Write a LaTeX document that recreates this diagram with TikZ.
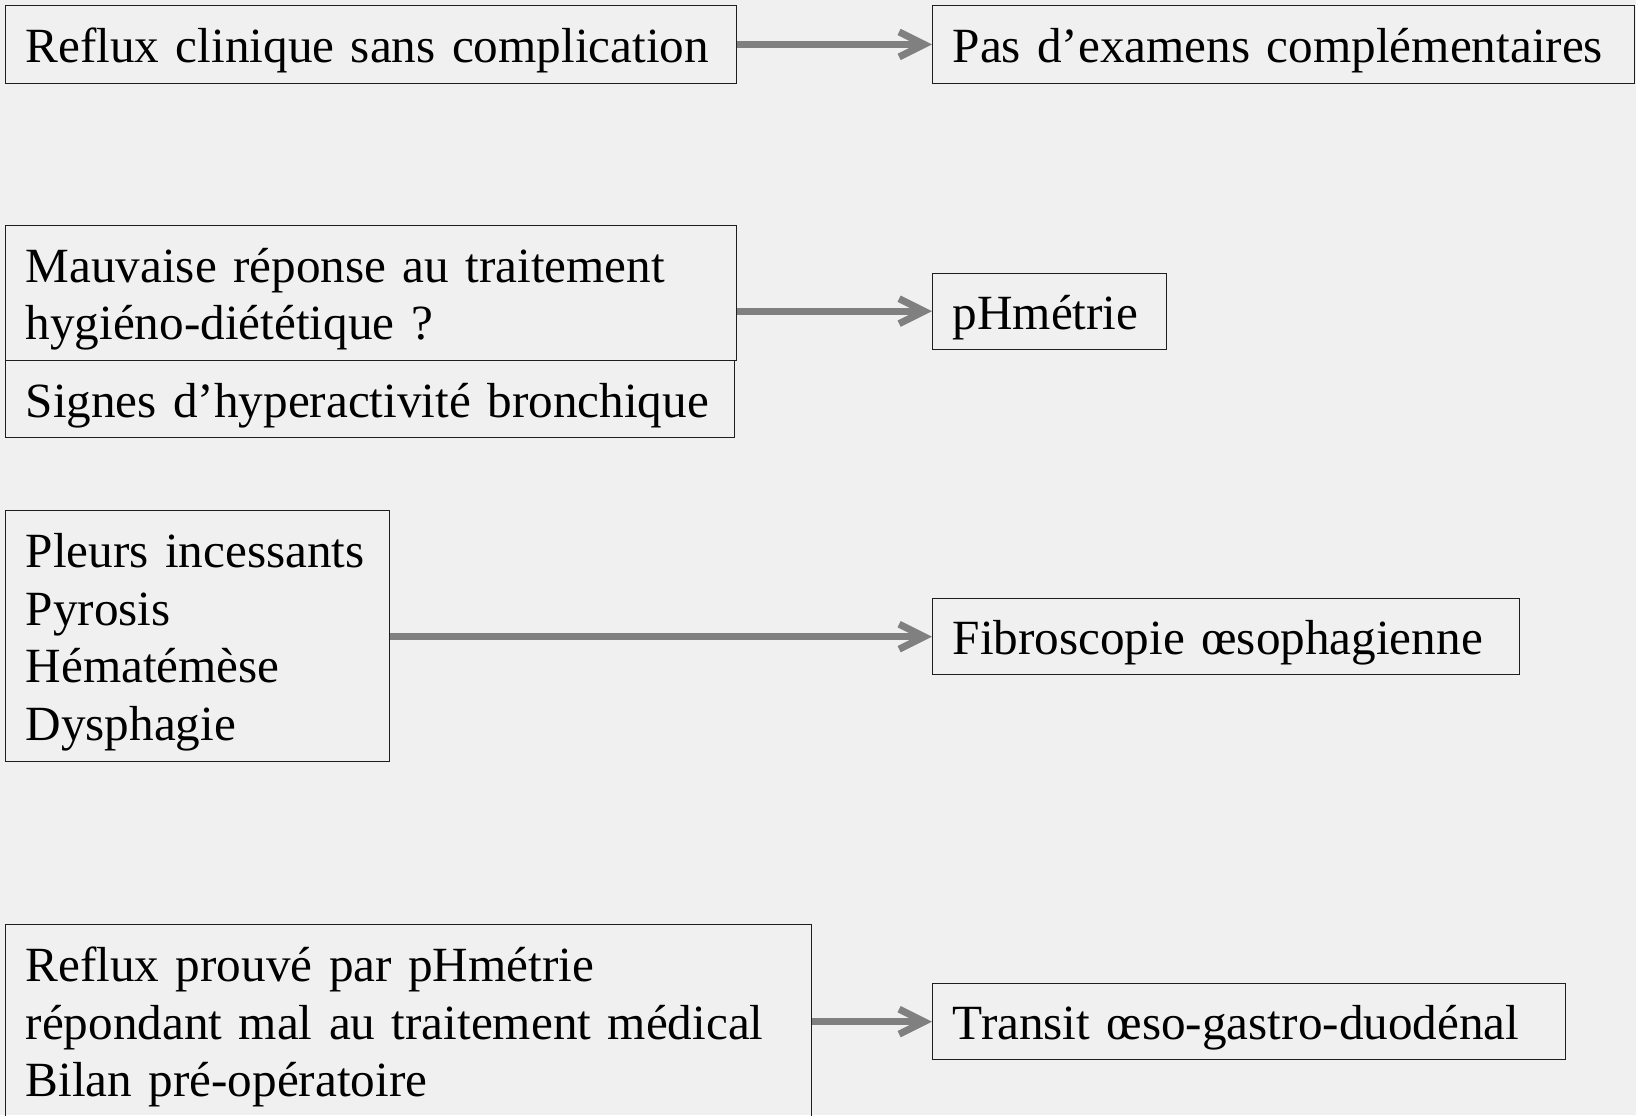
\documentclass[tikz,border=0pt]{standalone}
\usepackage{fontspec}
\setmainfont{Liberation Serif}
\usetikzlibrary{arrows.meta}
\definecolor{fond}{RGB}{240,240,240}
\definecolor{fleche gris}{RGB}{128,128,128}
\definecolor{trait}{RGB}{30,30,30}
\begin{document}
\begin{tikzpicture}[
	boite/.style={draw=trait, line width=0.75pt, anchor=north west, inner xsep=0.4cm, inner ysep=0pt, align=left, font=\fontsize{28}{32.7}\selectfont,
		execute at begin node={\rule{0pt}{27pt}}, execute at end node={\rule[-6.5pt]{0pt}{0pt}}},
	fleche/.style={-{Straight Barb[length=0.5cm,width=0.5cm]}, draw=fleche gris, line width=4pt}]
	\path[use as bounding box, fill=fond] (0,0) rectangle (32.72,-22.3);

	\node 	(reflux)	at	(0.10,-0.10) 	[boite, text width=13.81cm, minimum height=1.55cm]{Reflux clinique sans complication};
	\node 	(pasexam)	at	(18.64,-0.10) 	[boite, text width=13.24cm, minimum height=1.55cm]{Pas d’examens complémentaires};

	\node 	(mauvaise)	at	(0.10,-4.49) 	[boite, text width=13.81cm, minimum height=2.71cm]{Mauvaise réponse au traitement\\hygiéno-diététique ?};
	\node 	(signes)	at	(0.10,-7.20) 	[boite, text width=13.77cm, minimum height=1.54cm]{Signes d’hyperactivité bronchique};
	\node 	(phm)		at	(18.64,-5.45) 	[boite, text width=3.87cm, minimum height=1.52cm]{pHmétrie};

	\node 	(pleurs)	at	(0.10,-10.20) 	[boite, text width=6.88cm, minimum height=5.01cm]{Pleurs incessants\\Pyrosis\\Hématémèse\\Dysphagie};
	\node 	(fibro)		at	(18.64,-11.96) 	[boite, text width=10.94cm, minimum height=1.52cm]{Fibroscopie œsophagienne};

	\node 	(prouve)	at	(0.10,-18.47) 	[boite, text width=15.31cm, minimum height=3.88cm]{Reflux prouvé par pHmétrie\\répondant mal au traitement médical\\Bilan pré-opératoire};
	\node 	(transit)	at	(18.64,-19.66) 	[boite, text width=11.86cm, minimum height=1.52cm]{Transit œso-gastro-duodénal};

	\draw[fleche] (reflux) to (pasexam);
	\draw[fleche] (mauvaise.east |- phm) to (phm);
	\draw[fleche] (pleurs.east |- fibro) to (fibro);
	\draw[fleche] (prouve.east |- transit) to (transit);

\end{tikzpicture}
\end{document}
